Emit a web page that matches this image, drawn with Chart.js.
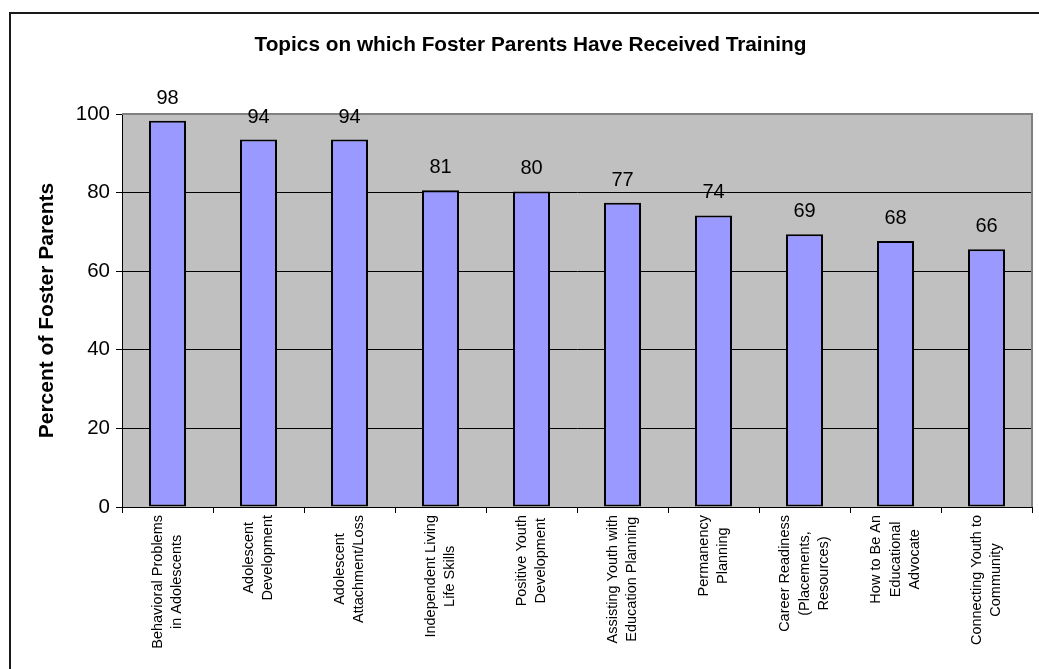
<!DOCTYPE html>
<html>
<head>
<meta charset="utf-8">
<script src="https://cdn.jsdelivr.net/npm/chart.js@4"></script>
<style>
html,body{margin:0;padding:0;background:#fff;}
canvas{display:block;}
</style>
</head>
<body>
<canvas id="c" width="1039" height="669"></canvas>
<script>
const chartTitle = "Topics on which Foster Parents Have Received Training";
const yAxisTitle = "Percent of Foster Parents";
const categories = [
  ["Behavioral Problems","in Adolescents"],
  ["Adolescent","Development"],
  ["Adolescent","Attachment/Loss"],
  ["Independent Living","Life Skills"],
  ["Positive Youth","Development"],
  ["Assisting Youth with","Education Planning"],
  ["Permanency","Planning"],
  ["Career Readiness","(Placements,","Resources)"],
  ["How to Be An","Educational","Advocate"],
  ["Connecting Youth to","Community"]
];
const percentValues = [98.3, 93.5, 93.5, 80.6, 80.3, 77.4, 74.2, 69.4, 67.7, 65.6];
const yTicks = [0, 20, 40, 60, 80, 100];

const FONT = "'Liberation Sans', Arial, Helvetica, sans-serif";

const framePlugin = {
  id: 'frame',
  beforeDraw(chart) {
    const ctx = chart.ctx, a = chart.chartArea;
    ctx.save();
    ctx.fillStyle = '#ffffff';
    ctx.fillRect(0, 0, chart.width, chart.height);
    ctx.fillStyle = '#1a1a1a';
    ctx.fillRect(9, 12, chart.width - 9, 2);
    ctx.fillRect(9, 12, 2, chart.height - 12);
    ctx.fillStyle = '#c0c0c0';
    ctx.fillRect(a.left, a.top, a.right - a.left, a.bottom - a.top);
    ctx.fillStyle = '#000';
    ctx.font = "bold 20.8px " + FONT;
    ctx.textAlign = 'center';
    ctx.textBaseline = 'middle';
    ctx.fillText(chartTitle, 530.5, 45);
    ctx.restore();
  },
  beforeDatasetsDraw(chart) {
    const ctx = chart.ctx, a = chart.chartArea;
    ctx.save();
    ctx.strokeStyle = '#808080';
    ctx.lineWidth = 2;
    ctx.beginPath();
    ctx.moveTo(a.left, a.top);
    ctx.lineTo(a.right, a.top);
    ctx.lineTo(a.right, a.bottom);
    ctx.stroke();
    ctx.restore();
  },
  afterDatasetsDraw(chart) {
    const ctx = chart.ctx;
    const meta = chart.getDatasetMeta(0);
    ctx.save();
    ctx.fillStyle = '#000';
    ctx.font = "20px " + FONT;
    ctx.textAlign = 'center';
    ctx.textBaseline = 'alphabetic';
    meta.data.forEach((bar, i) => {
      ctx.fillText(String(Math.round(percentValues[i])), bar.x, bar.y - 17);
    });
    const xs = chart.scales.x;
    ctx.font = "14.5px " + FONT;
    ctx.textBaseline = 'middle';
    const lh = 19.5;
    categories.forEach((lines, i) => {
      const cx = xs.getPixelForValue(i);
      let maxW = 0;
      lines.forEach(l => { maxW = Math.max(maxW, ctx.measureText(l).width); });
      ctx.save();
      ctx.translate(cx, 515 + maxW / 2);
      ctx.rotate(-Math.PI / 2);
      lines.forEach((l, j) => {
        ctx.fillText(l, 0, (j - (lines.length - 1) / 2) * lh);
      });
      ctx.restore();
    });
    ctx.restore();
  }
};

new Chart(document.getElementById('c'), {
  type: 'bar',
  data: {
    labels: categories.map(c => c.join(' ')),
    datasets: [{
      data: percentValues,
      backgroundColor: '#9999ff',
      borderColor: '#000000',
      borderWidth: 2,
      borderSkipped: false,
      categoryPercentage: 1,
      barPercentage: 0.407
    }]
  },
  options: {
    responsive: false,
    animation: false,
    layout: { padding: { top: 114, right: 7, bottom: 0, left: 0 } },
    plugins: {
      legend: { display: false },
      title: { display: false },
      tooltip: { enabled: false }
    },
    scales: {
      x: {
        afterFit(scale) { scale.height = 162; },
        ticks: { display: false },
        grid: {
          offset: true,
          drawOnChartArea: false,
          drawTicks: true,
          tickLength: 6,
          color: '#000'
        },
        border: { color: '#000', width: 1 }
      },
      y: {
        min: 0,
        max: 100,
        afterFit(scale) { scale.width = 122; },
        afterBuildTicks(scale) { scale.ticks = yTicks.map(v => ({ value: v })); },
        ticks: {
          color: '#000',
          font: { family: FONT, size: 20.5 },
          padding: 6
        },
        grid: {
          color: ctx => (ctx.tick && ctx.tick.value === 100) ? 'rgba(0,0,0,0)' : '#000',
          lineWidth: 1,
          drawTicks: true,
          tickLength: 6,
          tickColor: '#000'
        },
        border: { color: '#000', width: 1 },
        title: {
          display: true,
          text: yAxisTitle,
          color: '#000',
          font: { family: FONT, size: 21, weight: 'bold' },
          padding: { top: 35, bottom: 0 }
        }
      }
    }
  },
  plugins: [framePlugin]
});
</script>
</body>
</html>
